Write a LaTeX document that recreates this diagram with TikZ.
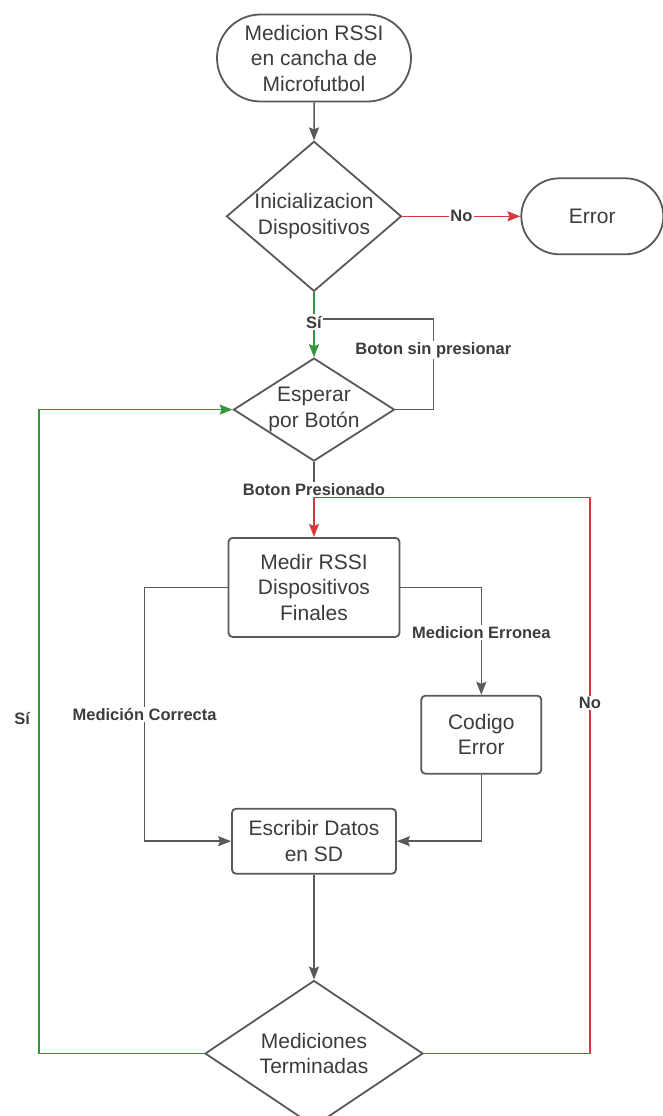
\documentclass[tikz,border=0pt]{standalone}
\usepackage{fontspec}
\setmainfont{Liberation Sans}
\usepackage{xcolor}
\usepackage{tikz}
\usetikzlibrary{positioning,arrows.meta,shapes.geometric,shapes.misc,calc}
\definecolor{lnGray}{RGB}{89,89,89}
\definecolor{txtGray}{RGB}{60,60,60}
\definecolor{okGreen}{RGB}{52,150,62}
\definecolor{noRed}{RGB}{212,58,64}

\begin{document}
\begin{tikzpicture}[node distance=40pt and 118pt, every node/.style={font=\fontsize{21}{25.5}\selectfont,text=txtGray},
  box/.style={draw=lnGray,line width=1.8pt,rounded corners=4pt,align=center,fill=white,inner sep=0pt},
  decision/.style={diamond,draw=lnGray,line width=1.8pt,align=center,fill=white,inner sep=0pt},
  terminal/.style={rounded rectangle,draw=lnGray,line width=1.8pt,align=center,fill=white,inner sep=0pt},
  lbl/.style={font=\bfseries\fontsize{16.5}{18}\selectfont,text=txtGray,fill=white,inner sep=1.5pt},
  flow/.style={draw=lnGray,line width=1.5pt},
  yes/.style={draw=okGreen,line width=1.5pt},
  nope/.style={draw=noRed,line width=1.5pt},
  >={Stealth[length=13pt,width=10pt,inset=2pt]}]
  \useasboundingbox (0,0) rectangle (663pt,-1116pt);
  \node[terminal,minimum width=194pt,minimum height=87pt] (start) at (314pt,-58pt) {Medicion RSSI\\ en cancha de\\ Microfutbol};
  \node[decision,aspect=1.17,minimum width=175pt,minimum height=150pt,below=38pt of start] (ini) {Inicializacion\\ Dispositivos};
  \node[terminal,minimum width=142pt,minimum height=76pt,right=of ini] (err) {Error};
  \node[decision,aspect=1.56,minimum width=161pt,minimum height=103pt,below=65pt of ini] (esp) {Esperar\\ por Botón};
  \node[box,minimum width=171pt,minimum height=99pt,below=75pt of esp] (medir) {Medir RSSI\\ Dispositivos\\ Finales};
  \node[box,minimum width=120pt,minimum height=78pt,below right=57pt and 20pt of medir.south east] (cod) {Codigo\\ Error};
  \node[box,minimum width=164pt,minimum height=65pt,below=170pt of medir] (esc) {Escribir Datos\\ en SD};
  \node[decision,aspect=1.49,minimum width=218pt,minimum height=146pt,below=105pt of esc] (fin) {Mediciones\\ Terminadas};
  \coordinate (pj) at ($(esp.south)!0.47!(medir.north)$);
  \draw[flow,->] (start) -- (ini);
  \draw[nope,->] (ini) -- node[lbl]{No} (err);
  \draw[flow] (esp.east) -- ++(38pt,0) |- node[lbl,pos=0.33]{Boton sin presionar} ($(ini.south)!0.415!(esp.north)$);
  \draw[yes,->] (ini) -- node[lbl,pos=0.46]{Sí} (esp);
  \draw[nope,->] (fin.east) -- ++(166pt,0) |- node[lbl,pos=0.315]{No} (pj) -- (medir);
  \draw[flow] (esp) -- node[lbl,pos=0.78]{Boton Presionado} (pj);
  \draw[yes,->] (fin.west) -- ++(-165pt,0) |- node[lbl,pos=0.26,left=7pt]{Sí} (esp.west);
  \draw[flow,->] (medir.west) -- ++(-83pt,0) |- node[lbl,pos=0.25]{Medición Correcta} (esc.west);
  \draw[flow,->] (medir.east) -| node[lbl,pos=0.71]{Medicion Erronea} (cod);
  \draw[flow,->] (cod) |- (esc);
  \draw[flow,->] (esc) -- (fin);
\end{tikzpicture}
\end{document}
